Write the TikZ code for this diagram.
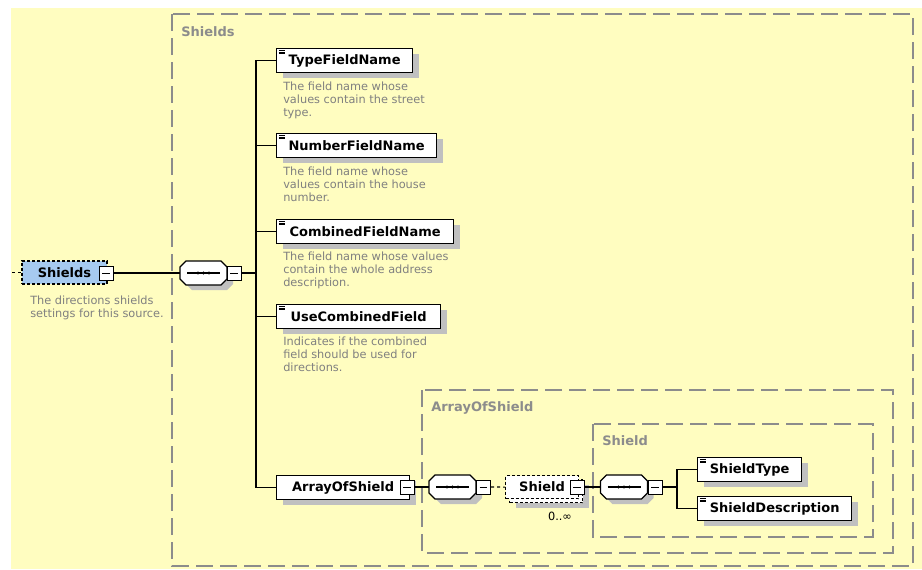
\documentclass[tikz,border=0pt]{standalone}
\usepackage{fontspec}
\setmainfont{DejaVu Sans}
\usetikzlibrary{shadows}
\definecolor{bgyellow}{RGB}{255,253,192}
\definecolor{grpgray}{RGB}{140,140,140}
\definecolor{descgray}{RGB}{128,128,128}
\definecolor{shadowgray}{RGB}{192,192,192}
\definecolor{rootblue}{RGB}{166,202,240}
\newcommand\elemfont{\fontsize{9.75pt}{11pt}\selectfont\bfseries}
\newcommand\descfont{\fontsize{8.5pt}{9.75pt}\selectfont}
\tikzset{
  conn/.style={line width=1pt},
  lnk/.style={line width=0.8pt, dash pattern=on 2.25pt off 2.25pt},
  boxshadow/.style={drop shadow={shadow xshift=4.5pt, shadow yshift=-3.75pt, fill=shadowgray, opacity=1}},
  elem/.style={draw, line width=1pt, fill=white, font=\elemfont, minimum height=18pt,
    inner sep=0pt, anchor=north west, boxshadow,
    path picture={\foreach \k in {0,1,2}{\draw[line width=0.5pt]
      ([xshift=1.6pt,yshift={-1.6pt-1.1pt*\k}]path picture bounding box.north west) -- ++(4.4pt,0);}}},
  minusbox/.style={draw, line width=0.75pt, fill=white, minimum size=10.5pt, inner sep=0pt,
    path picture={\draw[line width=0.75pt] ([xshift=2.4pt]path picture bounding box.west)
      -- ([xshift=-2.4pt]path picture bounding box.east);}},
  % sequence compositor: octagon with shadow, a line and three dots
  seq/.pic={
    \fill[shadowgray, shift={(6,5)}] (-23.5,-6) -- (-17.5,-12) -- (17.5,-12) -- (23.5,-6)
      -- (23.5,6) -- (17.5,12) -- (-17.5,12) -- (-23.5,6) -- cycle;
    \draw[line width=1pt, fill=white] (-23.5,-6) -- (-17.5,-12) -- (17.5,-12) -- (23.5,-6)
      -- (23.5,6) -- (17.5,12) -- (-17.5,12) -- (-23.5,6) -- cycle;
    \draw[line width=0.8pt] (-16.5,0) -- (16.5,0);
    \foreach \d in {-5.5,0,5.5}{\fill (\d,0) circle (1.15pt);}
    \node[minimum width=35.25pt, minimum height=18pt, inner sep=0pt] (-n) at (0,0) {};
  },
  grp/.style={draw=grpgray, line width=1.5pt, dash pattern=on 13pt off 5pt},
  grplabel/.style={anchor=north west, inner sep=0pt, font=\elemfont, text=grpgray},
  desc/.style={anchor=north west, align=left, inner sep=0pt, font=\descfont, text=descgray},
  rootbox/.style={draw, line width=0.8pt, dash pattern=on 2.25pt off 1.5pt, fill=rootblue,
    font=\elemfont, minimum width=63.75pt, minimum height=17.25pt, inner sep=0pt},
  multibox/.style={draw, line width=0.8pt, dash pattern=on 2.25pt off 1.5pt, fill=white,
    font=\elemfont, minimum width=54.75pt, minimum height=17.25pt, inner sep=0pt, anchor=north west},
}
\begin{document}
\begin{tikzpicture}[x=0.75pt,y=-0.75pt]
\useasboundingbox (0,0) rectangle (922,569);
\fill[bgyellow] (11,8) rectangle (922,569);

% group containers
\draw[grp] (172,14) rectangle (913,566);
\node[grplabel] (gshields) at (181,26) {Shields};
\draw[grp] (422,390) rectangle (893,553);
\node[grplabel] (garray) at (431,401) {ArrayOfShield};
\draw[grp] (593,424) rectangle (873,537);
\node[grplabel] (gshield) at (602,435) {Shield};

% root element
\coordinate (in) at (12,272.5);
\node[rootbox] (root) at (64.5,272.5) {Shields};
\node[minusbox] (rootm) at (106,273) {};
\node[desc] (rootd) at (30,295.5) {The directions shields\\settings for this source.};

% first sequence
\pic (seq1) at (203.5,273) {seq};
\node[minusbox] (seq1m) at (234,273) {};
\coordinate (trunk1) at (256,273);

% child elements
\node[elem, minimum width=102pt] (tfn) at (276,48) {TypeFieldName};
\node[desc] (tfnd) at (283,81.5) {The field name whose\\values contain the street\\type.};
\node[elem, minimum width=120pt] (nfn) at (276,133) {NumberFieldName};
\node[desc] (nfnd) at (283,166.5) {The field name whose\\values contain the house\\number.};
\node[elem, minimum width=132.75pt] (cfn) at (276,219) {CombinedFieldName};
\node[desc] (cfnd) at (283,251.5) {The field name whose values\\contain the whole address\\description.};
\node[elem, minimum width=123pt] (ucf) at (276,304) {UseCombinedField};
\node[desc] (ucfd) at (283,337) {Indicates if the combined\\field should be used for\\directions.};
\node[elem, minimum width=99.75pt, path picture={}] (aos) at (276,475) {ArrayOfShield};
\node[minusbox] (aosm) at (407,487) {};

% ArrayOfShield content
\pic (seq2) at (452.5,487) {seq};
\node[minusbox] (seq2m) at (483.5,487) {};
\node[multibox, boxshadow] (shieldb) at (509,479) {};
\node[multibox] (shield) at (505,475) {Shield};
\node[minusbox] (shieldm) at (577,487) {};
\node[font=\descfont, inner sep=0pt] (mult) at (560,516) {0..∞};

% Shield content
\pic (seq3) at (624,487) {seq};
\node[minusbox] (seq3m) at (655,487) {};
\coordinate (trunk2) at (677,487);
\node[elem, minimum width=78pt] (st) at (697,457) {ShieldType};
\node[elem, minimum width=115.5pt] (sd) at (697,496) {ShieldDescription};

% connectors
\draw[lnk] (in) -- (root);
\draw[conn] (rootm.east) -- (seq1-n.west);
\draw[conn] (seq1m.east) -- (trunk1);
\foreach \n in {tfn,nfn,cfn,ucf,aos}{\draw[conn] (trunk1) |- (\n.west);}
\draw[conn] (aosm.east) -- (seq2-n.west);
\draw[lnk] (seq2m.east) -- (shield.west);
\draw[conn] (shieldm.east) -- (seq3-n.west);
\draw[conn] (seq3m.east) -- (trunk2);
\draw[conn] (trunk2) |- (st.west);
\draw[conn] (trunk2) |- (sd.west);
\end{tikzpicture}
\end{document}
